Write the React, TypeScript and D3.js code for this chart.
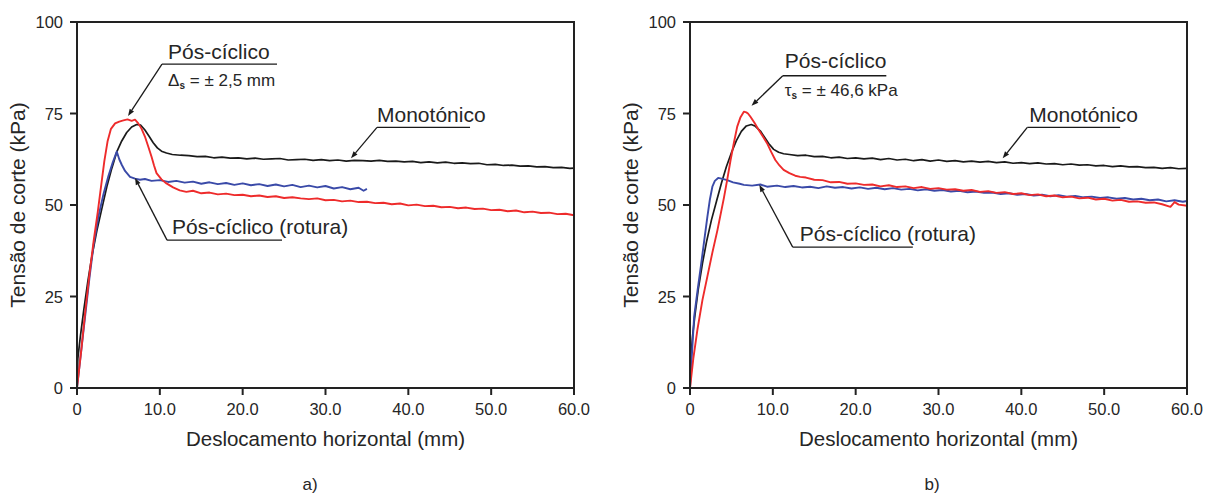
import React from 'react';
import * as d3 from 'd3';

type P = [number, number];

const xTicks = [0, 10, 20, 30, 40, 50, 60];
const yTicks = [0, 25, 50, 75, 100];
const xTickLabels = ['0', '10.0', '20.0', '30.0', '40.0', '50.0', '60.0'];
const yTickLabels = ['0', '25', '50', '75', '100'];

// Panel a)
const monotonicoA: P[] = [[0,0],[0.05,4],[0.1,8],[0.4,14],[0.8,21],[1.3,29],[1.8,36],[2.4,43],[3.0,49],[3.6,55],[4.2,60],[4.8,64.5],[5.4,67.5],[6.0,69.8],[6.6,71.3],[7.2,72.0],[7.7,71.8],[8.2,70.5],[8.7,68.8],[9.2,67.0],[9.7,65.6],[10.2,64.7],[10.8,64.2],[11.5,63.8],[12.5,63.6],[13.5,63.5],[14.5,63.2],[15.5,63.3],[16.5,62.9],[17.5,63.1],[18.5,62.8],[19.5,62.9],[20.5,62.6],[21.5,62.8],[22.5,62.5],[23.5,62.6],[24.5,62.7],[25.5,62.3],[26.5,62.4],[27.5,62.5],[28.5,62.2],[29.5,62.4],[30.5,62.1],[31.5,62.3],[32.5,62.0],[33.5,62.2],[34.5,62.1],[35.5,62.0],[36.5,62.2],[37.5,61.9],[38.5,62.0],[39.5,61.8],[40.5,61.9],[41.5,61.6],[42.5,61.8],[43.5,61.5],[44.5,61.7],[45.5,61.4],[46.5,61.5],[47.5,61.3],[48.5,61.4],[49.5,61.0],[50.5,61.1],[51.5,60.8],[52.5,60.9],[53.5,60.6],[54.5,60.7],[55.5,60.4],[56.5,60.5],[57.5,60.2],[58.5,60.3],[59.5,60.0],[60,60.1]];
const posCiclicoA: P[] = [[0,0],[0.5,10],[1.0,21],[1.5,31],[2.0,40],[2.5,48],[2.9,55],[3.3,62],[3.7,67.5],[4.1,70.8],[4.6,72.3],[5.1,72.8],[5.6,73.1],[6.1,73.4],[6.6,73.0],[7.0,73.3],[7.4,72.3],[7.8,70.8],[8.2,68.7],[8.6,66.0],[9.0,63.2],[9.3,60.8],[9.6,58.7],[10.2,57.0],[10.8,55.9],[11.6,54.8],[12.4,54.0],[13.2,53.6],[14,53.9],[15,53.2],[16,53.4],[17,52.9],[18,53.1],[19,52.7],[20,52.8],[21,52.4],[22,52.6],[23,52.2],[24,52.4],[25,51.9],[26,52.1],[27,51.8],[28,51.6],[29,51.8],[30,51.3],[31,51.4],[32,51.0],[33,51.2],[34,50.8],[35,50.9],[36,50.5],[37,50.6],[38,50.2],[39,50.4],[40,49.9],[41,50.1],[42,49.7],[43,49.8],[44,49.4],[45,49.5],[46,49.1],[47,49.3],[48,48.9],[49,49.0],[50,48.6],[51,48.7],[52,48.3],[53,48.5],[54,48.0],[55,48.2],[56,47.8],[57,47.9],[58,47.5],[59,47.6],[60,47.2]];
const roturaA: P[] = [[0,0],[0.5,10],[1.0,20],[1.5,30],[2.0,39],[2.6,47],[3.2,53],[3.8,58],[4.3,61.5],[4.8,64.6],[5.1,62.5],[5.4,61.0],[5.8,59.3],[6.4,57.7],[7.0,57.2],[7.6,56.9],[8.2,57.1],[9,56.6],[10,56.8],[11,56.3],[12,56.6],[13,56.1],[14,56.4],[15,55.8],[16,56.2],[17,55.7],[18,56.0],[19,55.5],[20,55.9],[21,55.4],[22,55.7],[23,55.2],[24,55.6],[25,55.1],[26,55.5],[27,54.9],[28,55.3],[29,54.8],[30,55.2],[31,54.5],[32,54.9],[33,54.3],[34,54.7],[34.6,53.9],[35,54.4]];

// Panel b)
const monotonicoB: P[] = [[0,0],[0.1,8],[0.3,14],[0.6,20],[1.0,27],[1.5,34],[2.0,40],[2.6,46],[3.2,51],[3.8,56],[4.4,60.5],[5.0,64.3],[5.6,67.6],[6.2,70.1],[6.8,71.6],[7.4,72.0],[7.9,71.5],[8.5,70.2],[9.0,68.5],[9.5,66.8],[10.1,65.2],[10.7,64.4],[11.3,64.0],[12,63.8],[13,63.5],[14,63.6],[15,63.2],[16,63.3],[17,62.9],[18,63.1],[19,62.7],[20,62.9],[21,62.6],[22,62.8],[23,62.4],[24,62.7],[25,62.3],[26,62.5],[27,62.1],[28,62.4],[29,62.0],[30,62.3],[31,61.9],[32,62.1],[33,61.8],[34,62.0],[35,61.7],[36,61.9],[37,61.6],[38,61.8],[39,61.4],[40,61.6],[41,61.3],[42,61.5],[43,61.2],[44,61.3],[45,61.0],[46,61.2],[47,60.9],[48,61.0],[49,60.7],[50,60.8],[51,60.5],[52,60.7],[53,60.4],[54,60.5],[55,60.2],[56,60.3],[57,60.0],[58,60.2],[59,59.9],[60,60.0]];
const posCiclicoB: P[] = [[0,0],[0.4,8],[0.9,16],[1.5,24],[2.1,30.5],[2.7,37],[3.3,43],[3.7,47.5],[4.1,52],[4.5,57],[4.9,62.3],[5.3,67],[5.7,71.4],[6.1,74],[6.5,75.5],[6.8,75.3],[7.0,75.0],[7.3,74.1],[7.8,72.4],[8.3,70.5],[8.8,68.7],[9.3,66.9],[9.8,64.5],[10.3,62.3],[10.8,60.8],[11.3,59.6],[12,58.7],[12.7,58.0],[13.3,57.7],[14,57.5],[15,56.9],[16,56.8],[17,56.2],[18,56.3],[19,55.8],[20,55.9],[21,55.5],[22,55.6],[23,55.1],[24,55.4],[25,54.9],[26,55.1],[27,54.6],[28,54.9],[29,54.4],[30,54.6],[31,54.2],[32,54.3],[33,53.9],[34,54.1],[35,53.6],[36,53.8],[37,53.3],[38,53.5],[39,53.0],[40,53.2],[41,52.7],[42,52.9],[43,52.4],[44,52.6],[45,52.1],[46,52.3],[47,51.8],[48,52.0],[49,51.5],[50,51.7],[51,51.2],[52,51.4],[53,50.9],[54,51.0],[55,50.6],[56,50.7],[57,50.2],[58,49.5],[58.5,50.8],[59,50.1],[60,49.8]];
const roturaB: P[] = [[0,0],[0.2,8],[0.5,19.5],[0.9,26.5],[1.3,33.1],[1.7,40],[2.1,46.8],[2.4,51.5],[2.7,55],[3.0,56.6],[3.4,57.4],[3.8,57.2],[4.5,56.8],[5.2,56.2],[6,55.8],[6.5,55.5],[7.5,55.3],[8.5,55.6],[9.3,55.0],[10.5,55.3],[11.5,54.9],[12.5,55.2],[13.5,54.8],[14.5,55.0],[15.5,54.6],[16.5,55.1],[17.5,54.7],[18.5,54.9],[19.5,54.5],[20.5,54.8],[21.5,54.4],[22.5,54.7],[23.5,54.3],[24.5,54.6],[25.5,54.2],[26.5,54.4],[27.5,54.0],[28.5,54.3],[29.5,53.9],[30.5,54.1],[31.5,53.7],[32.5,53.9],[33.5,53.5],[34.5,53.7],[35.5,53.3],[36.5,53.4],[37.5,53.0],[38.5,53.2],[39.5,52.8],[40.5,53.0],[41.5,52.6],[42.5,52.8],[43.5,52.4],[44.5,52.7],[45.5,52.3],[46.5,52.5],[47.5,52.1],[48.5,52.3],[49.5,51.9],[50.5,52.1],[51.5,51.7],[52.5,51.9],[53.5,51.5],[54.5,51.7],[55.5,51.3],[56.5,51.5],[57.5,51.0],[58.5,51.3],[59.5,50.9],[60,51.1]];

const FONT = '"Liberation Sans", Arial, Helvetica, sans-serif';
const TXT = '#262626';
const RED = '#ee2b2b';
const BLUE = '#3a4aa8';
const BLACK = '#1a1a1a';

type Ann = {
  cyc: { tx: number; ty: number; ux0: number; ux1: number; uy: number; tip: P; sub: string; subTy: number; symbol: string };
  mono: { tx: number; ty: number; ux0: number; ux1: number; uy: number; tip: P };
  rot: { tx: number; ty: number; ux0: number; ux1: number; uy: number; tip: P };
};

const W = 497;
const H = 366;

function Arrow({ from, to }: { from: [number, number]; to: [number, number] }) {
  const dx = to[0] - from[0];
  const dy = to[1] - from[1];
  const len = Math.sqrt(dx * dx + dy * dy);
  const ux = dx / len;
  const uy = dy / len;
  const al = 7;
  const aw = 2.6;
  const bx = to[0] - ux * al;
  const by = to[1] - uy * al;
  const pts = `${to[0]},${to[1]} ${bx - uy * aw},${by + ux * aw} ${bx + uy * aw},${by - ux * aw}`;
  return (
    <g>
      <line x1={from[0]} y1={from[1]} x2={bx} y2={by} stroke={BLACK} strokeWidth={1.3} />
      <polygon points={pts} fill={BLACK} />
    </g>
  );
}

function Panel({ ox, oy, mono, cyc, rot, ann }: { ox: number; oy: number; mono: P[]; cyc: P[]; rot: P[]; ann: Ann }) {
  const x = d3.scaleLinear().domain([0, 60]).range([0, W]);
  const y = d3.scaleLinear().domain([0, 100]).range([H, 0]);
  const line = d3.line<P>().x(d => x(d[0])).y(d => y(d[1]));
  const a = ann;
  return (
    <g transform={`translate(${ox},${oy})`}>
      <path d={line(mono) || ''} fill="none" stroke={BLACK} strokeWidth={1.7} strokeLinejoin="round" />
      <path d={line(rot) || ''} fill="none" stroke={BLUE} strokeWidth={1.9} strokeLinejoin="round" />
      <path d={line(cyc) || ''} fill="none" stroke={RED} strokeWidth={1.9} strokeLinejoin="round" />
      {/* frame */}
      <rect x={0} y={0} width={W} height={H} fill="none" stroke="#222" strokeWidth={2} />
      {yTicks.map((t, i) => (
        <g key={'y' + t}>
          <line x1={-7} x2={0} y1={y(t)} y2={y(t)} stroke="#222" strokeWidth={2} />
          <text x={-14} y={y(t) + 6} textAnchor="end" fontSize={16.5} fill={TXT} fontFamily={FONT}>{yTickLabels[i]}</text>
        </g>
      ))}
      {xTicks.map((t, i) => (
        <g key={'x' + t}>
          <line x1={x(t)} x2={x(t)} y1={H} y2={H + 7} stroke="#222" strokeWidth={2} />
          <text x={x(t)} y={H + 27} textAnchor="middle" fontSize={16.5} fill={TXT} fontFamily={FONT}>{xTickLabels[i]}</text>
        </g>
      ))}
      <text x={W / 2} y={H + 58} textAnchor="middle" fontSize={20.5} fill={TXT} fontFamily={FONT}>Deslocamento horizontal (mm)</text>
      <text transform={`translate(-52,${H / 2}) rotate(-90)`} textAnchor="middle" fontSize={21} fill={TXT} fontFamily={FONT}>Tensão de corte (kPa)</text>

      {/* Pós-cíclico annotation */}
      <text x={x(a.cyc.tx)} y={y(a.cyc.ty)} fontSize={21} fill={TXT} fontFamily={FONT}>Pós-cíclico</text>
      <line x1={x(a.cyc.ux0)} x2={x(a.cyc.ux1)} y1={y(a.cyc.uy)} y2={y(a.cyc.uy)} stroke={BLACK} strokeWidth={1.4} />
      <Arrow from={[x(a.cyc.ux0), y(a.cyc.uy)]} to={[x(a.cyc.tip[0]), y(a.cyc.tip[1])]} />
      <text x={x(a.cyc.tx)} y={y(a.cyc.subTy)} fontSize={17} fill={TXT} fontFamily={FONT}>
        {a.cyc.symbol}
        <tspan fontSize={10} fontWeight="bold" dy={3}>s</tspan>
        <tspan dy={-3}>{a.cyc.sub}</tspan>
      </text>

      {/* Monotónico */}
      <text x={x(a.mono.tx)} y={y(a.mono.ty)} fontSize={21} fill={TXT} fontFamily={FONT}>Monotónico</text>
      <line x1={x(a.mono.ux0)} x2={x(a.mono.ux1)} y1={y(a.mono.uy)} y2={y(a.mono.uy)} stroke={BLACK} strokeWidth={1.4} />
      <Arrow from={[x(a.mono.ux0), y(a.mono.uy)]} to={[x(a.mono.tip[0]), y(a.mono.tip[1])]} />

      {/* rotura */}
      <text x={x(a.rot.tx)} y={y(a.rot.ty)} fontSize={21} fill={TXT} fontFamily={FONT}>Pós-cíclico (rotura)</text>
      <line x1={x(a.rot.ux0)} x2={x(a.rot.ux1)} y1={y(a.rot.uy)} y2={y(a.rot.uy)} stroke={BLACK} strokeWidth={1.4} />
      <Arrow from={[x(a.rot.ux0), y(a.rot.uy)]} to={[x(a.rot.tip[0]), y(a.rot.tip[1])]} />
    </g>
  );
}

const annA: Ann = {
  cyc: { tx: 11.0, ty: 90.0, ux0: 10.26, ux1: 24.15, uy: 88.5, tip: [6.16, 74.3], symbol: 'Δ', sub: ' = ± 2,5 mm', subTy: 82.65 },
  mono: { tx: 36.22, ty: 72.8, ux0: 36.22, ux1: 47.45, uy: 71.2, tip: [33.08, 62.76] },
  rot: { tx: 11.47, ty: 42.1, ux0: 10.87, ux1: 24.75, uy: 40.4, tip: [7.0, 57.4] },
};
const annB: Ann = {
  cyc: { tx: 11.45, ty: 87.3, ux0: 11.2, ux1: 23.7, uy: 85.3, tip: [7.43, 77.1], symbol: 'τ', sub: ' = ± 46,6 kPa', subTy: 79.8 },
  mono: { tx: 40.96, ty: 72.8, ux0: 40.72, ux1: 51.93, uy: 71.2, tip: [37.75, 62.76] },
  rot: { tx: 13.25, ty: 40.2, ux0: 12.4, ux1: 26.9, uy: 38.5, tip: [8.37, 55.5] },
};

export default function App() {
  return (
    <svg width={1216} height={501} style={{ position: 'absolute', left: 0, top: 0, background: '#fff' }}>
      <rect width={1216} height={501} fill="#fff" />
      <Panel ox={77} oy={22} mono={monotonicoA} cyc={posCiclicoA} rot={roturaA} ann={annA} />
      <Panel ox={690} oy={22} mono={monotonicoB} cyc={posCiclicoB} rot={roturaB} ann={annB} />
      <text x={310} y={490} textAnchor="middle" fontSize={17} fill={TXT} fontFamily={FONT}>a)</text>
      <text x={932} y={490} textAnchor="middle" fontSize={17} fill={TXT} fontFamily={FONT}>b)</text>
    </svg>
  );
}
